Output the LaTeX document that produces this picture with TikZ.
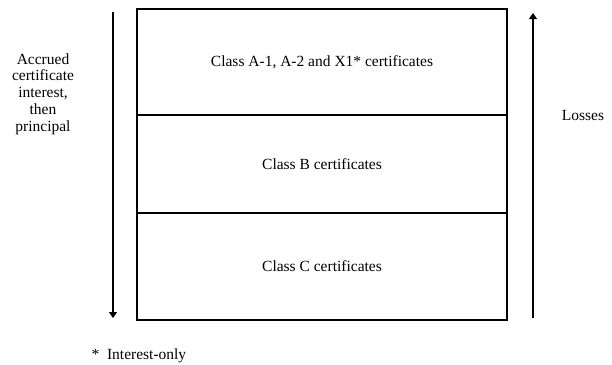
\documentclass[tikz,border=0pt]{standalone}
\usepackage{fontspec}
\setmainfont{Liberation Serif}
\usetikzlibrary{arrows.meta}
\begin{document}
\begin{tikzpicture}[x=1pt,y=-1pt]
            \tikzstyle{tranche}=[draw,line width=1.6pt,minimum width=370pt,inner sep=0pt]
            \tikzstyle{fleche}=[line width=1.3pt,-{Triangle[width=8pt,length=6pt]}]
            \tikzstyle{texte}=[font=\fontsize{15.5}{16.8}\selectfont,align=center]
            \useasboundingbox (0,0) rectangle (612,364);
            \node[tranche,minimum height=106pt] (a) at (322,62) {};
            \node[tranche,minimum height=98pt] (b) at (322,164) {};
            \node[tranche,minimum height=107pt] (c) at (322,266.5) {};
            \node[texte] (ta) at (a) {Class A-1, A-2 and X1* certificates};
            \node[texte] (tb) at (b) {Class B certificates};
            \node[texte] (tc) at (c) {Class C certificates};
            \coordinate (h1) at (113,12);
            \coordinate (b1) at (113,318);
            \coordinate (h2) at (533,13);
            \coordinate (b2) at (533,318);
            \draw[fleche] (h1) -- (b1);
            \draw[fleche] (b2) -- (h2);
            \node[texte] (l) at (43,94) {Accrued\\certificate\\interest,\\then\\principal};
            \node[texte] (ll) at (583,115) {Losses};
            \node[texte,anchor=west] (n) at (88,356) {*\ \ Interest-only};
        \end{tikzpicture}
\end{document}
